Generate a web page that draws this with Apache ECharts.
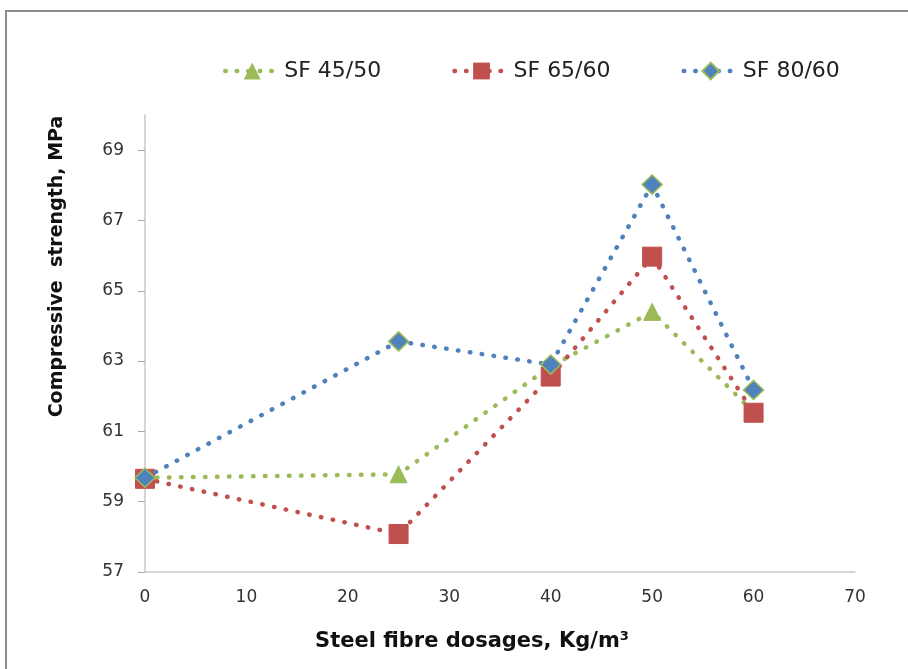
<!DOCTYPE html>
<html><head><meta charset="utf-8">
<script src="https://cdn.jsdelivr.net/npm/echarts@6/dist/echarts.min.js"></script>
<style>html,body{margin:0;padding:0;background:#fff}#c{width:908px;height:669px}</style>
</head><body><div id="c"></div>
<script>
const dosages = [0, 25, 40, 50, 60];
const sf4550 = [59.68, 59.78, 62.85, 64.4, 61.55];
const sf6560 = [59.65, 58.08, 62.56, 65.97, 61.53];
const sf8060 = [59.68, 63.56, 62.9, 68.02, 62.18];
const seriesNames = ['SF 45/50', 'SF 65/60', 'SF 80/60'];
const xTicks = [0, 10, 20, 30, 40, 50, 60, 70];
const yTicks = [57, 59, 61, 63, 65, 67, 69];

const chart = echarts.init(document.getElementById('c'), null, {renderer: 'canvas'});
const font = '"DejaVu Sans", sans-serif';
function pts(arr){ return dosages.map((d,i)=>[d, arr[i]]); }
const dot = {type: [0.5, 11.5], cap: 'round', width: 4.5};
chart.setOption({
  animation: false,
  graphic: [{type: 'rect', shape: {x: 6, y: 11, width: 940, height: 700}, style: {fill: 'none', stroke: '#8c8c8c', lineWidth: 2}, silent: true}],
  legend: {
    top: 55, left: 218, itemGap: 71, itemWidth: 54, itemHeight: 21,
    lineStyle: {width: 4.5, type: [0.5, 11], cap: 'round'},
    textStyle: {fontFamily: font, fontSize: 22, color: '#222'},
    data: seriesNames
  },
  grid: {left: 145, right: 53, top: 115, bottom: 97},
  xAxis: {
    type: 'value', min: 0, max: 70, interval: 10,
    name: 'Steel fibre dosages, Kg/m³', nameLocation: 'middle', nameGap: 59,
    nameTextStyle: {fontFamily: font, fontSize: 21, fontWeight: 'bold', color: '#111', padding: [0, 56, 0, 0]},
    axisLine: {lineStyle: {color: '#c8c8c8', width: 1.5}},
    axisTick: {show: false},
    splitLine: {show: false},
    axisLabel: {fontFamily: font, fontSize: 17, color: '#333', margin: 17, customValues: xTicks}
  },
  yAxis: {
    type: 'value', min: 57, max: 70, interval: 2,
    name: 'Compressive  strength, MPa', nameLocation: 'middle', nameGap: 78, nameRotate: 90,
    nameTextStyle: {fontFamily: font, fontSize: 19, fontWeight: 'bold', color: '#111', padding: [0, 0, 0, 154]},
    axisLine: {show: true, lineStyle: {color: '#c8c8c8', width: 1.5}},
    axisTick: {show: true, length: 7, lineStyle: {color: '#aaa'}, customValues: yTicks},
    splitLine: {show: false},
    axisLabel: {fontFamily: font, fontSize: 17, color: '#333', margin: 21, customValues: yTicks}
  },
  series: [
    {name: seriesNames[0], type: 'line', data: pts(sf4550), symbol: 'triangle', symbolSize: 17,
      itemStyle: {color: '#9BBB59', borderColor: '#9BBB59'}, lineStyle: Object.assign({color: '#9BBB59'}, dot), z: 2},
    {name: seriesNames[1], type: 'line', data: pts(sf6560), symbol: 'rect', symbolSize: 19,
      itemStyle: {color: '#C0504D', borderColor: '#C0504D'}, lineStyle: Object.assign({color: '#C0504D'}, dot), z: 3},
    {name: seriesNames[2], type: 'line', data: pts(sf8060), symbol: 'diamond', symbolSize: [20, 19],
      itemStyle: {color: '#4F81BD', borderColor: '#9BBB59', borderWidth: 1.5}, lineStyle: Object.assign({color: '#4F81BD'}, dot), z: 4}
  ]
});
</script></body></html>
